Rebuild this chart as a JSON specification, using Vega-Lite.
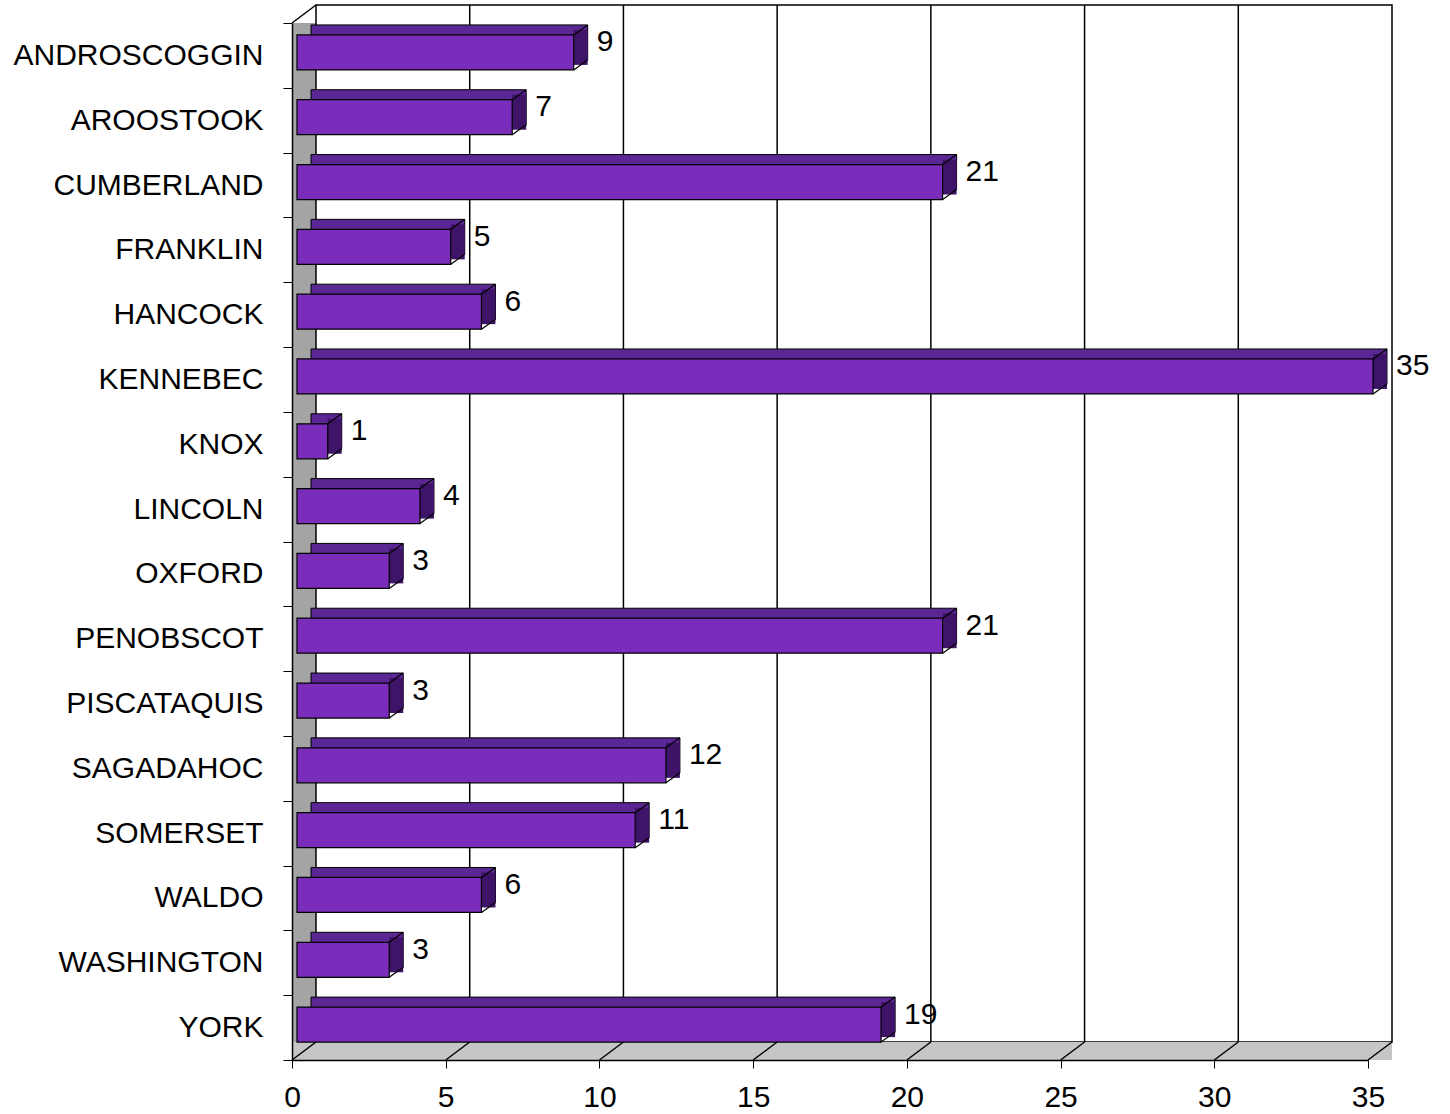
{
  "$schema": "https://vega.github.io/schema/vega-lite/v6.json",
  "width": 1076,
  "height": 1037,
  "autosize": {"type": "none"},
  "padding": {"left": 292, "top": 23, "right": 82, "bottom": 54},
  "background": "white",
  "config": {"view": {"stroke": null}, "font": "Liberation Sans"},
  "datasets": {
    "counties": [
      {"county": "ANDROSCOGGIN", "value": 9},
      {"county": "AROOSTOOK", "value": 7},
      {"county": "CUMBERLAND", "value": 21},
      {"county": "FRANKLIN", "value": 5},
      {"county": "HANCOCK", "value": 6},
      {"county": "KENNEBEC", "value": 35},
      {"county": "KNOX", "value": 1},
      {"county": "LINCOLN", "value": 4},
      {"county": "OXFORD", "value": 3},
      {"county": "PENOBSCOT", "value": 21},
      {"county": "PISCATAQUIS", "value": 3},
      {"county": "SAGADAHOC", "value": 12},
      {"county": "SOMERSET", "value": 11},
      {"county": "WALDO", "value": 6},
      {"county": "WASHINGTON", "value": 3},
      {"county": "YORK", "value": 19}
    ],
    "ticks": [{"t": 0}, {"t": 5}, {"t": 10}, {"t": 15}, {"t": 20}, {"t": 25}, {"t": 30}, {"t": 35}],
    "one": [{"k": 1}]
  },
  "layer": [
    {
      "data": {"name": "one"},
      "mark": {"type": "rect", "fill": "#a4a4a4", "x2Offset": 24},
      "encoding": {
        "x": {"datum": 0, "type": "quantitative", "scale": {"domain": [0, 35], "nice": false}, "title": null},
        "x2": {"datum": 0},
        "y": {"value": 0},
        "y2": {"value": "height"}
      }
    },
    {
      "data": {"name": "one"},
      "mark": {"type": "rect", "fill": "white", "stroke": "black", "strokeWidth": 1.5, "xOffset": 24, "x2Offset": 24, "yOffset": -18, "y2Offset": -18},
      "encoding": {
        "x": {"datum": 0, "type": "quantitative", "title": null},
        "x2": {"datum": 35},
        "y": {"value": 0},
        "y2": {"value": "height"}
      }
    },
    {
      "data": {"name": "ticks"},
      "transform": [{"filter": "datum.t > 0 && datum.t < 35"}],
      "mark": {"type": "rule", "color": "black", "strokeWidth": 1.5, "xOffset": 24, "yOffset": -18, "y2Offset": -18},
      "encoding": {
        "x": {"field": "t", "type": "quantitative", "title": null},
        "y": {"value": 0},
        "y2": {"value": "height"}
      }
    },
    {
      "data": {"name": "one"},
      "mark": {"type": "rect", "fill": "#c6c6c6", "x2Offset": 24, "y2Offset": -18},
      "encoding": {
        "x": {"datum": 0, "type": "quantitative", "title": null},
        "x2": {"datum": 35},
        "y": {"value": "height"},
        "y2": {"value": "height"}
      }
    },
    {
      "data": {"name": "ticks"},
      "mark": {"type": "rule", "color": "black", "strokeWidth": 1.5, "x2Offset": 24, "y2Offset": -18},
      "encoding": {
        "x": {"field": "t", "type": "quantitative", "title": null},
        "x2": {"field": "t"},
        "y": {"value": "height"},
        "y2": {"value": "height"}
      }
    },
    {
      "data": {"name": "one"},
      "mark": {"type": "rule", "color": "black", "strokeWidth": 1.5, "x2Offset": 24, "y2Offset": -18},
      "encoding": {
        "x": {"datum": 0, "type": "quantitative", "title": null},
        "x2": {"datum": 0},
        "y": {"value": 0},
        "y2": {"value": 0}
      }
    },
    {
      "data": {"name": "counties"},
      "mark": {"type": "bar", "fill": "#5b2794", "stroke": "black", "strokeWidth": 1, "height": {"band": 0.54}, "xOffset": 19, "x2Offset": 12, "yOffset": -13},
      "encoding": {
        "x": {"field": "value", "type": "quantitative", "title": null},
        "y": {"field": "county", "type": "nominal", "sort": null, "title": null}
      }
    },
    {
      "data": {"name": "counties"},
      "mark": {"type": "bar", "fill": "#3e1468", "height": {"band": 0.54}, "xOffset": 5, "x2Offset": 19, "yOffset": -8},
      "encoding": {
        "x": {"field": "value", "type": "quantitative", "title": null},
        "x2": {"field": "value"},
        "y": {"field": "county", "type": "nominal", "sort": null, "title": null}
      }
    },
    {
      "data": {"name": "counties"},
      "mark": {"type": "bar", "fill": "#7a2cba", "stroke": "black", "strokeWidth": 1.2, "height": {"band": 0.54}, "xOffset": 5, "x2Offset": 5, "yOffset": -3},
      "encoding": {
        "x": {
          "field": "value", "type": "quantitative", "title": null,
          "axis": {"values": [0, 5, 10, 15, 20, 25, 30, 35], "grid": false, "tickSize": 8, "tickColor": "black", "domainColor": "black", "domainWidth": 1.5, "labelFontSize": 30, "labelColor": "black", "labelPadding": 14, "labelFlush": false, "labelFont": "Liberation Sans", "zindex": 1}
        },
        "y": {
          "field": "county", "type": "nominal", "sort": null, "title": null,
          "scale": {"paddingInner": 0, "paddingOuter": 0},
          "axis": {"tickBand": "extent", "tickSize": 9, "tickColor": "black", "domainColor": "black", "domainWidth": 1.5, "labelFontSize": 30, "labelColor": "black", "labelPadding": 20, "labelLimit": 0, "labelFont": "Liberation Sans", "zindex": 1}
        }
      }
    },
    {
      "data": {"name": "counties"},
      "mark": {"type": "rule", "color": "black", "strokeWidth": 1.2, "xOffset": 5, "x2Offset": 19, "yOffset": 14.5, "y2Offset": 4.5},
      "encoding": {
        "x": {"field": "value", "type": "quantitative", "title": null},
        "x2": {"field": "value"},
        "y": {"field": "county", "type": "nominal", "sort": null, "title": null},
        "y2": {"field": "county"}
      }
    },
    {
      "data": {"name": "counties"},
      "mark": {"type": "rule", "color": "black", "strokeWidth": 1.2, "xOffset": 5, "x2Offset": 19, "yOffset": -20.5, "y2Offset": -30.5},
      "encoding": {
        "x": {"field": "value", "type": "quantitative", "title": null},
        "x2": {"field": "value"},
        "y": {"field": "county", "type": "nominal", "sort": null, "title": null},
        "y2": {"field": "county"}
      }
    },
    {
      "data": {"name": "counties"},
      "mark": {"type": "text", "align": "left", "baseline": "middle", "dx": 28, "dy": -13, "fontSize": 30, "color": "black", "font": "Liberation Sans"},
      "encoding": {
        "x": {"field": "value", "type": "quantitative", "title": null},
        "y": {"field": "county", "type": "nominal", "sort": null, "title": null},
        "text": {"field": "value", "type": "quantitative"}
      }
    }
  ]
}
